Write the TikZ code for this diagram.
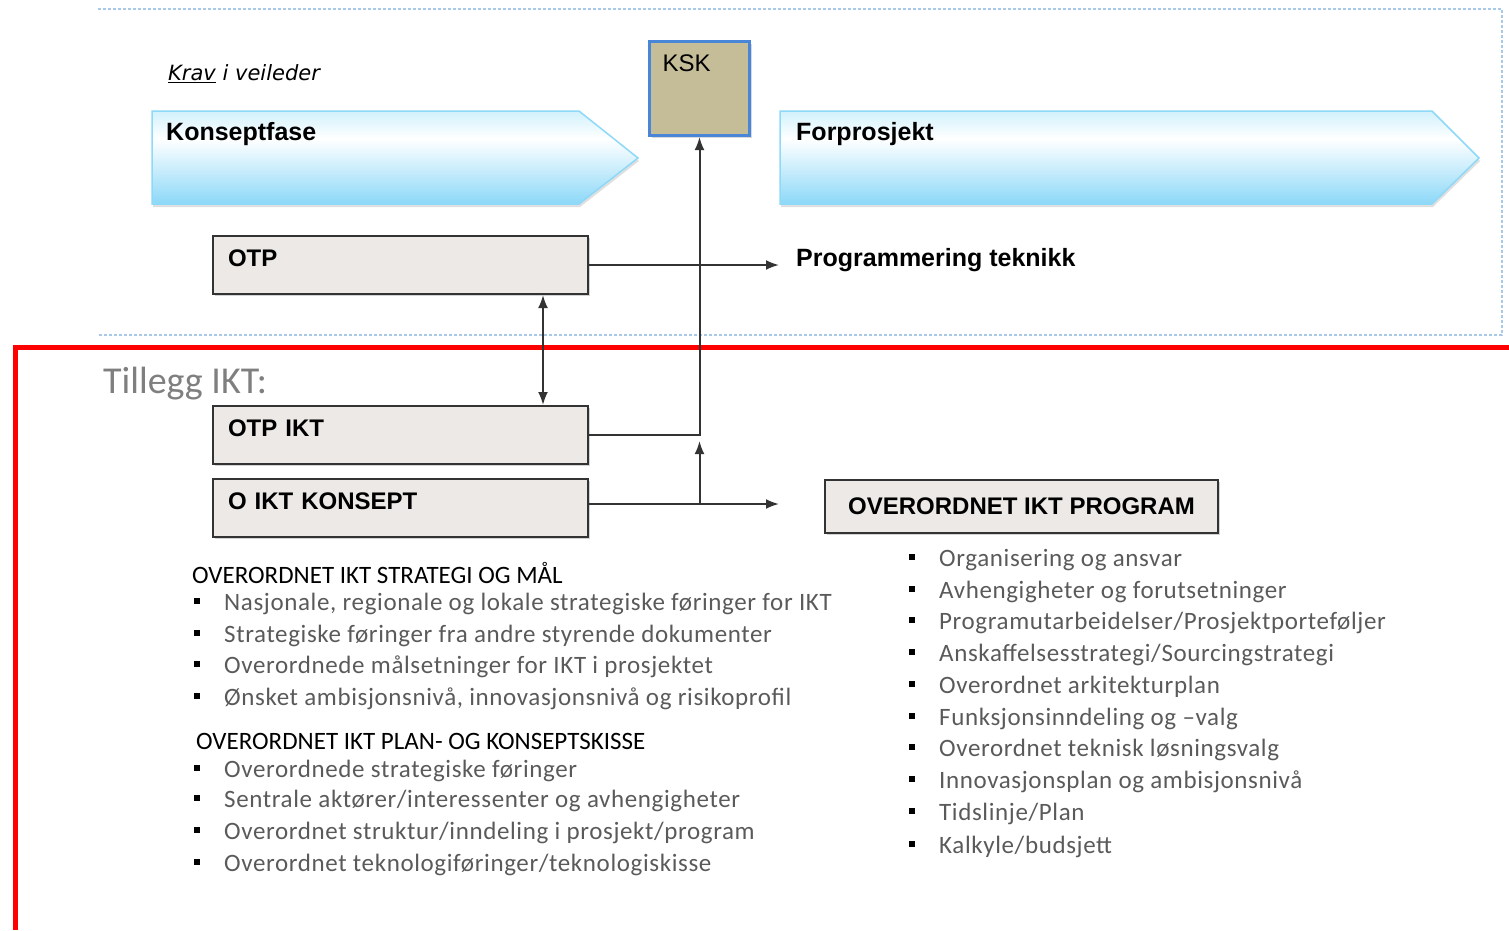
\documentclass[tikz,border=0pt]{standalone}
\usepackage{fontspec}
\setmainfont{Liberation Sans}
\newfontfamily\calibrifont{Carlito}
\newfontfamily\calibrispaced[LetterSpace=2.5]{Carlito}
\newfontfamily\verdanafont{DejaVu Sans}
\usetikzlibrary{arrows.meta,shadows}

\definecolor{boxfill}{HTML}{ECE9E6}
\definecolor{boxline}{HTML}{333333}
\definecolor{kskfill}{HTML}{C4BD97}
\definecolor{kskline}{HTML}{4A86D8}
\definecolor{phaseline}{HTML}{8ED8F8}
\definecolor{phaseblue}{HTML}{8CD8F8}
\definecolor{phasetop}{HTML}{D2F1FC}
\definecolor{framedot}{HTML}{A9C9E9}
\definecolor{itemgray}{HTML}{5A5A5A}
\definecolor{tilleggray}{HTML}{7F7F7F}

\pgfdeclareverticalshading{phase}{100bp}{color(0bp)=(phaseblue); color(25bp)=(phaseblue); color(60bp)=(white); color(75bp)=(phasetop); color(100bp)=(phasetop)}

\newcommand{\bul}{\makebox[30pt][l]{\textcolor{black}{\rule[6pt]{6pt}{6pt}}}}

\begin{document}
\begin{tikzpicture}
    [
        x=1pt, y=-1pt,
        block/.style={draw=boxline, fill=boxfill, line width=2pt, anchor=north west,
            text width=345pt, inner xsep=15pt, inner ysep=0pt, text height=30pt, text depth=28pt,
            align=left, font=\fontsize{24}{28}\selectfont\bfseries,
            drop shadow={shadow xshift=2pt, shadow yshift=-2pt, opacity=0.35},},
        kskbox/.style={draw=kskline, fill=kskfill, line width=3pt, anchor=north west,
            text width=74pt, inner xsep=13pt, inner ysep=0pt, text height=30pt, text depth=64pt,
            align=left, font=\fontsize{24}{28}\selectfont,
            drop shadow={shadow xshift=2pt, shadow yshift=-2pt, opacity=0.3},},
        programbox/.style={draw=boxline, fill=boxfill, line width=2pt, anchor=north west,
            minimum width=393pt, minimum height=53pt, inner sep=0pt,
            font=\fontsize{24}{28}\selectfont\bfseries,
            drop shadow={shadow xshift=2pt, shadow yshift=-2pt, opacity=0.35},},
        phase/.style={shading=phase, draw=phaseline, line width=1.5pt,
            drop shadow={shadow xshift=1pt, shadow yshift=-3pt, opacity=0.25},},
        phasetext/.style={anchor=base west, inner sep=0pt, font=\fontsize{25}{30}\selectfont\bfseries,},
        listhead/.style={anchor=base west, inner sep=0pt, font=\calibrifont\fontsize{25}{30}\selectfont,},
        item/.style={anchor=base west, inner sep=0pt, text=itemgray, font=\calibrispaced\fontsize{25}{30}\selectfont,},
        edge/.style={-{Latex[length=13pt,width=10pt]}, draw=boxline, line width=2pt,},
        biedge/.style={{Latex[length=13pt,width=10pt]}-{Latex[length=13pt,width=10pt]}, draw=boxline, line width=2pt,},
    ]
    \useasboundingbox (0,0) rectangle (1509,930);

    % frames
    \draw [framedot, line width=1.2pt, dash pattern=on 3pt off 2pt] (98,9) -- (1502,9) -- (1502,335) -- (98,335);
    \draw [red, line width=5pt] (15,930) -- (15,347) -- (1509,347);

    % phases
    \shade [phase] (152,111) -- (579,111) -- (638,158) -- (579,204) -- (152,204) -- cycle;
    \shade [phase] (780,111) -- (1432,111) -- (1479,158) -- (1432,204) -- (780,204) -- cycle;

    \node (krav) at (168,80) [anchor=base west, inner sep=0pt, font=\verdanafont\itshape\fontsize{21}{25}\selectfont] {\underline{Krav} i veileder};
    \node (konseptfase) at (166,140) [phasetext] {Konseptfase};
    \node (forprosjekt) at (796,140) [phasetext] {Forprosjekt};
    \node (ksk) at (648,40) [kskbox] {KSK};

    \node (otp) at (212,235) [block] {OTP};
    \node (prog) at (796,266) [phasetext] {Programmering teknikk};

    % ikt
    \node (tillegg) at (103,393) [anchor=base west, inner sep=0pt, text=tilleggray, font=\calibrifont\fontsize{38}{44}\selectfont] {Tillegg IKT:};
    \node (otpikt) at (212,405) [block] {OTP IKT};
    \node (konsept) at (212,478) [block] {O IKT KONSEPT};
    \node (program) at (824,479) [programbox] {OVERORDNET IKT PROGRAM};

    \coordinate (level) at (0,441);
    \coordinate (split) at ([yshift=4pt]ksk.south |- konsept.east);
    \coordinate (splittop) at (ksk.south |- level);

    \draw [edge, shorten >=17pt] (otp.east) -- (otp.east -| prog.west);
    \draw [biedge] ([xshift=142.5pt]otp.south) -- ([xshift=142.5pt]otpikt.north);
    \draw [edge] (otpikt.east) -| (ksk.south);
    \draw [edge] (split) -- (splittop);
    \draw [edge, shorten >=45pt] ([yshift=4pt]konsept.east) -- (split -| program.west);

    % strategi
    \node (h1) at (192,583) [listhead] {OVERORDNET IKT STRATEGI OG MÅL};
    \node (s1) at (194,610) [item] {\bul Nasjonale, regionale og lokale strategiske føringer for IKT};
    \node (s2) at (194,642) [item] {\bul Strategiske føringer fra andre styrende dokumenter};
    \node (s3) at (194,673) [item] {\bul Overordnede målsetninger for IKT i prosjektet};
    \node (s4) at (194,705) [item] {\bul Ønsket ambisjonsnivå, innovasjonsnivå og risikoprofil};

    % plan
    \node (h2) at (196,749) [listhead] {OVERORDNET IKT PLAN- OG KONSEPTSKISSE};
    \node (p1) at (194,777) [item] {\bul Overordnede strategiske føringer};
    \node (p2) at (194,807) [item] {\bul Sentrale aktører/interessenter og avhengigheter};
    \node (p3) at (194,839) [item] {\bul Overordnet struktur/inndeling i prosjekt/program};
    \node (p4) at (194,871) [item] {\bul Overordnet teknologiføringer/teknologiskisse};

    % program
    \node (r1) at (909,566) [item] {\bul Organisering og ansvar};
    \node (r2) at (909,598) [item] {\bul Avhengigheter og forutsetninger};
    \node (r3) at (909,629) [item] {\bul Programutarbeidelser/Prosjektporteføljer};
    \node (r4) at (909,661) [item] {\bul Anskaffelsesstrategi/Sourcingstrategi};
    \node (r5) at (909,693) [item] {\bul Overordnet arkitekturplan};
    \node (r6) at (909,725) [item] {\bul Funksjonsinndeling og –valg};
    \node (r7) at (909,756) [item] {\bul Overordnet teknisk løsningsvalg};
    \node (r8) at (909,788) [item] {\bul Innovasjonsplan og ambisjonsnivå};
    \node (r9) at (909,820) [item] {\bul Tidslinje/Plan};
    \node (r10) at (909,853) [item] {\bul Kalkyle/budsjett};

\end{tikzpicture}
\end{document}
